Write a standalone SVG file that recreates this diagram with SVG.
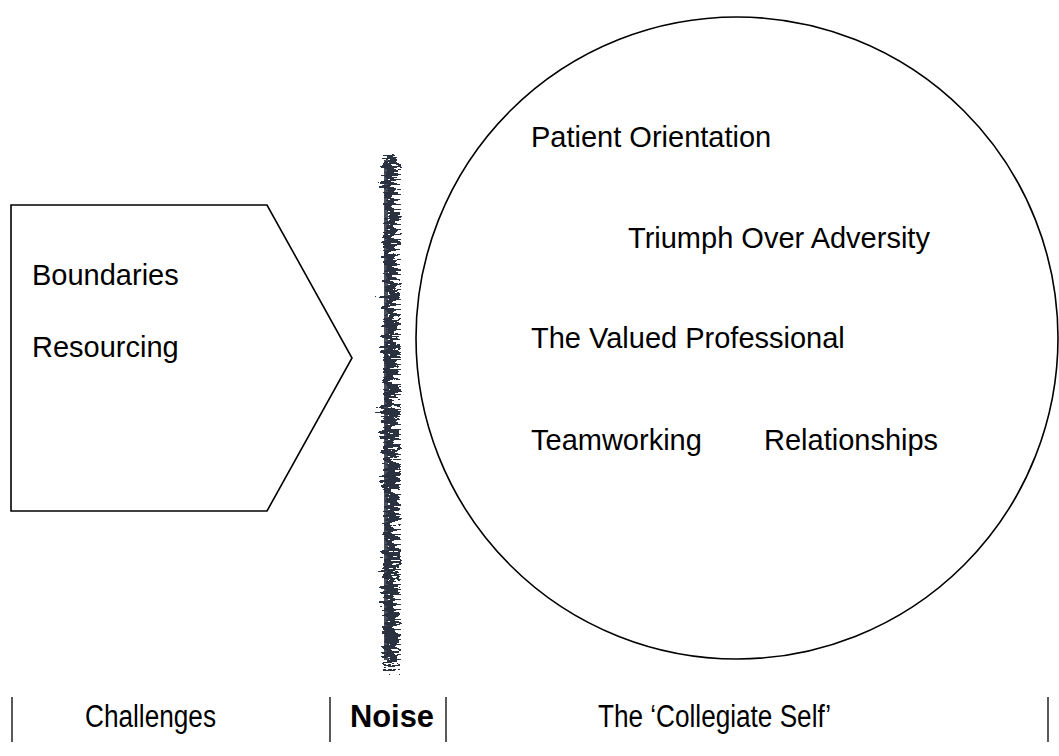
<svg xmlns="http://www.w3.org/2000/svg" width="1059" height="756" viewBox="0 0 1059 756">
<style>
.t{font-family:"Liberation Sans",Arial,sans-serif;font-size:29px;fill:#000}
.b{font-family:"Liberation Sans",Arial,sans-serif;font-size:31px;fill:#000}
.shape{fill:#fff;stroke:#000;stroke-width:1.6}
.bar{stroke:#000;stroke-width:1.3}
</style>
<defs>
<filter id="jag" x="-300%" y="-5%" width="700%" height="110%">
<feTurbulence type="turbulence" baseFrequency="0.05 0.2" numOctaves="3" seed="11" result="n"/>
<feDisplacementMap in="SourceGraphic" in2="n" scale="22" xChannelSelector="R" yChannelSelector="B"/>
</filter>
</defs>
<rect width="1059" height="756" fill="#fff"/>
<g id="challenges">
<polygon class="shape" points="11,205 267,205 352,358 267,511 11,511"/>
<text class="t" x="32" y="285">Boundaries</text>
<text class="t" x="32" y="357">Resourcing</text>
</g>
<g id="noise">
<rect x="380" y="153" width="12" height="512" fill="#2a3040" filter="url(#jag)"/>
<rect x="384" y="160" width="4" height="500" fill="#2a3040" opacity="0.85"/>
</g>
<g id="collegiate-self">
<circle class="shape" cx="737" cy="338" r="321"/>
<text class="t" x="531" y="147">Patient Orientation</text>
<text class="t" x="628" y="248">Triumph Over Adversity</text>
<text class="t" x="531" y="348">The Valued Professional</text>
<text class="t" x="531" y="450">Teamworking</text>
<text class="t" x="764" y="450">Relationships</text>
</g>
<g id="legend">
<line class="bar" x1="12" y1="697" x2="12" y2="742"/>
<line class="bar" x1="330" y1="697" x2="330" y2="742"/>
<line class="bar" x1="446" y1="697" x2="446" y2="742"/>
<line class="bar" x1="1048" y1="697" x2="1048" y2="742"/>
<text class="b" x="85" y="727" textLength="131" lengthAdjust="spacingAndGlyphs">Challenges</text>
<text class="b" x="350" y="727" font-weight="bold" textLength="84" lengthAdjust="spacingAndGlyphs">Noise</text>
<text class="b" x="598" y="727" textLength="233" lengthAdjust="spacingAndGlyphs">The ‘Collegiate Self’</text>
</g>
<g id="connectors"/>
</svg>
